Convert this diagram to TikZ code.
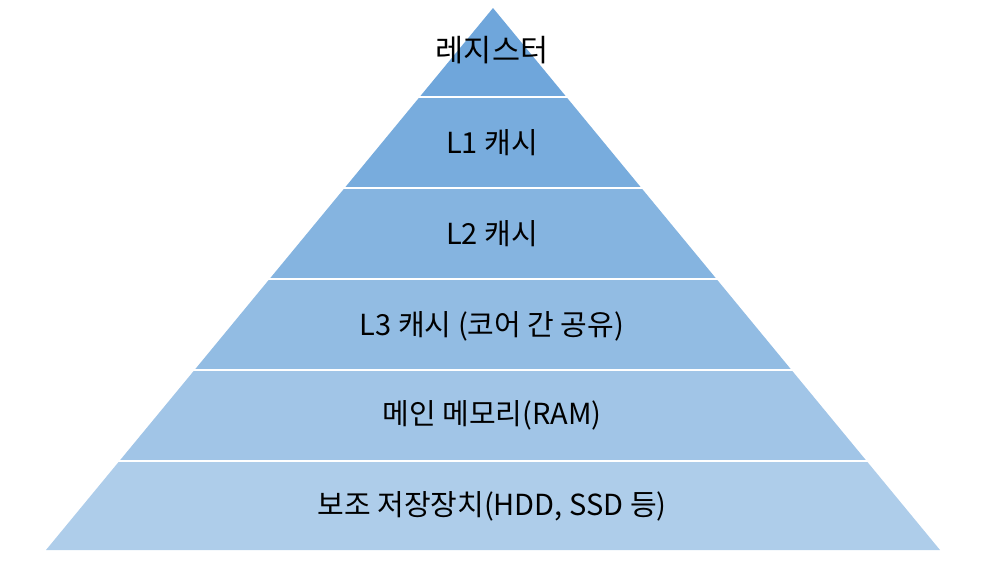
\documentclass[tikz,border=0pt]{standalone}
\usepackage{fontspec}
\setmainfont{Noto Sans CJK KR}
\definecolor{cA}{HTML}{6FA6DB}
\definecolor{cB}{HTML}{78ACDD}
\definecolor{cC}{HTML}{85B4E0}
\definecolor{cD}{HTML}{92BCE3}
\definecolor{cE}{HTML}{A1C5E7}
\definecolor{cF}{HTML}{AECDEA}
\begin{document}
\begin{tikzpicture}[x=1pt,y=-1pt,
  layer/.style={draw=none},
  sep/.style={draw=white,line width=1.6pt},
  lbl/.style={font=\fontsize{29}{33}\selectfont,text=black,inner sep=0pt}]
\useasboundingbox (0,0) rectangle (995,562);
\fill[cA] (493,8) -- (566.4,97) -- (419.6,97) -- cycle;
\fill[cB] (419.6,97) -- (566.4,97) -- (641.4,188) -- (344.6,188) -- cycle;
\fill[cC] (344.6,188) -- (641.4,188) -- (716.5,279) -- (269.5,279) -- cycle;
\fill[cD] (269.5,279) -- (716.5,279) -- (791.5,370) -- (194.5,370) -- cycle;
\fill[cE] (194.5,370) -- (791.5,370) -- (866.6,461) -- (119.4,461) -- cycle;
\fill[cF] (119.4,461) -- (866.6,461) -- (940,550) -- (46,550) -- cycle;
\draw[sep] (418,97) -- (568,97);
\draw[sep] (343,188) -- (643,188);
\draw[sep] (268,279) -- (718,279);
\draw[sep] (193,370) -- (793,370);
\draw[sep] (118,461) -- (868,461);
\node[lbl,font=\fontsize{30.5}{34}\selectfont] (t1) at (492,50) {레지스터};
\node[lbl] (t2) at (492,143) {L1 캐시};
\node[lbl] (t3) at (492,234) {L2 캐시};
\node[lbl] (t4) at (492,326) {L3 캐시 (코어 간 공유)};
\node[lbl] (t5) at (492,415) {메인 메모리(RAM)};
\node[lbl] (t6) at (492,506) {보조 저장장치(HDD, SSD 등)};
\end{tikzpicture}
\end{document}
